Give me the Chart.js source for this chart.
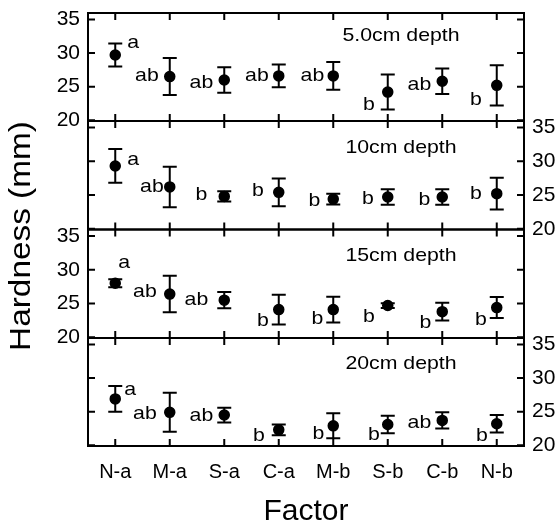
<!DOCTYPE html>
<html>
<head>
    <title>Hardness by depth</title>
    <script src="https://cdn.jsdelivr.net/npm/chart.js"></script>
    <style>
        body {
            margin: 0;
            padding: 0;
            background-color: #fff;
        }

        .wrap {
            position: relative;
            width: 560px;
            height: 528px;
        }

        .wrap canvas {
            position: absolute;
            left: 0;
            top: 0;
        }
    </style>
</head>
<body>
    <div class="wrap">
        <canvas id="p0" width="560" height="528"></canvas>
        <canvas id="p1" width="560" height="528"></canvas>
        <canvas id="p2" width="560" height="528"></canvas>
        <canvas id="p3" width="560" height="528"></canvas>
    </div>
    <script>
        var categories = ['N-a', 'M-a', 'S-a', 'C-a', 'M-b', 'S-b', 'C-b', 'N-b'];
        var depths = ['5.0cm depth', '10cm depth', '15cm depth', '20cm depth'];
        var yTicks = [20, 25, 30, 35];

        var means5 = [29.7, 26.5, 26.0, 26.6, 26.6, 24.2, 25.8, 25.2];
        var err5 = [1.7, 2.75, 1.9, 1.7, 2.05, 2.6, 1.9, 3.0];
        var letters5 = ['a', 'ab', 'ab', 'ab', 'ab', 'b', 'ab', 'b'];

        var means10 = [29.3, 26.2, 24.8, 25.4, 24.4, 24.7, 24.7, 25.2];
        var err10 = [2.5, 3.0, 0.75, 2.05, 0.8, 1.15, 1.15, 2.35];
        var letters10 = ['a', 'ab', 'b', 'b', 'b', 'b', 'b', 'b'];

        var means15 = [28.0, 26.4, 25.5, 24.1, 24.1, 24.7, 23.8, 24.4];
        var err15 = [0.6, 2.7, 1.2, 2.2, 1.9, 0.35, 1.3, 1.55];
        var letters15 = ['a', 'ab', 'ab', 'b', 'b', 'b', 'b', 'b'];

        var means20 = [26.9, 24.9, 24.5, 22.3, 22.9, 23.1, 23.7, 23.2];
        var err20 = [1.9, 2.9, 1.1, 0.8, 1.85, 1.3, 1.2, 1.3];
        var letters20 = ['a', 'ab', 'ab', 'b', 'b', 'b', 'ab', 'b'];

        var means = [means5, means10, means15, means20];
        var errs = [err5, err10, err15, err20];
        var letters = [letters5, letters10, letters15, letters20];

        // layout only: panel strips, label side, letter offsets (px from the point)
        var panelTop = [13, 121, 229.5, 338];
        var panelBottom = [121, 229.5, 338, 446];
        var labelSide = ['left', 'right', 'left', 'right'];
        var titleDy = [23, 27, 26, 26];
        var letterOffsets = [
            [[12, -12], [-11, -1], [-11, 3], [-10, 0], [-9, 0], [-13, 13], [-11, 4], [-15, 15]],
            [[12, -6], [-6, 0], [-17, -1], [-15, -1], [-13, 2], [-14, 2], [-12, 3], [-15, 0]],
            [[3, -20], [-13, -2], [-16, 0], [-10, 11], [-10, 9], [-13, 11], [-11, 11], [-10, 12]],
            [[9, -9], [-13, 2], [-11, 1], [-14, 6], [-9, 8], [-8, 10], [-11, 2], [-9, 12]]
        ];

        var FONT = 'Arial, "Liberation Sans", sans-serif';
        var STRETCH = 1.15; // the source lettering is a bit wider than Arial
        Chart.defaults.font.family = FONT;
        Chart.defaults.color = '#000';

        function wideText(ctx, text, x, y, align) {
            ctx.save();
            ctx.translate(x, y);
            ctx.scale(STRETCH, 1);
            ctx.textAlign = align;
            ctx.fillText(text, 0, 0);
            ctx.restore();
        }

        function makePanelPlugin(k) {
            return {
                id: 'panel' + k,
                beforeDatasetsDraw: function (chart) {
                    var ctx = chart.ctx;
                    var a = chart.chartArea;
                    var xs = chart.scales.x;
                    var ys = chart.scales.y;
                    ctx.save();
                    ctx.strokeStyle = '#000';
                    ctx.lineWidth = 2;

                    // error bars
                    for (var i = 0; i < categories.length; i++) {
                        var px = xs.getPixelForValue(i);
                        var top = ys.getPixelForValue(means[k][i] + errs[k][i]);
                        var bot = ys.getPixelForValue(means[k][i] - errs[k][i]);
                        ctx.beginPath();
                        ctx.moveTo(px, top);
                        ctx.lineTo(px, bot);
                        ctx.moveTo(px - 7, top);
                        ctx.lineTo(px + 7, top);
                        ctx.moveTo(px - 7, bot);
                        ctx.lineTo(px + 7, bot);
                        ctx.stroke();
                    }

                    // frame with inward ticks
                    ctx.strokeRect(a.left, a.top, a.right - a.left, a.bottom - a.top);
                    ctx.beginPath();
                    for (var j = 0; j < yTicks.length; j++) {
                        var ty = ys.getPixelForValue(yTicks[j]);
                        ctx.moveTo(a.left, ty);
                        ctx.lineTo(a.left + 7, ty);
                        ctx.moveTo(a.right, ty);
                        ctx.lineTo(a.right - 7, ty);
                    }
                    for (var c = 0; c < categories.length; c++) {
                        var tx = xs.getPixelForValue(c);
                        ctx.moveTo(tx, a.top);
                        ctx.lineTo(tx, a.top + 7);
                        ctx.moveTo(tx, a.bottom);
                        ctx.lineTo(tx, a.bottom - 7);
                    }
                    ctx.stroke();
                    ctx.restore();
                },
                afterDatasetsDraw: function (chart) {
                    var ctx = chart.ctx;
                    var a = chart.chartArea;
                    var meta = chart.getDatasetMeta(0);
                    ctx.save();
                    ctx.fillStyle = '#000';
                    ctx.textBaseline = 'middle';
                    ctx.font = '18.5px ' + FONT;
                    for (var i = 0; i < meta.data.length; i++) {
                        var el = meta.data[i];
                        var off = letterOffsets[k][i];
                        wideText(ctx, letters[k][i], el.x + off[0], el.y + off[1], off[0] < 0 ? 'right' : 'left');
                    }
                    wideText(ctx, depths[k], 401, a.top + titleDy[k], 'center');

                    if (k === 0) {
                        ctx.translate(22, 236);
                        ctx.rotate(-Math.PI / 2);
                        ctx.font = '29px ' + FONT;
                        wideText(ctx, 'Hardness (mm)', 0, 0, 'center');
                    }
                    ctx.restore();
                }
            };
        }

        function makeChart(k) {
            var last = k === 3;
            var side = labelSide[k];
            var ctx = document.getElementById('p' + k).getContext('2d');
            return new Chart(ctx, {
                type: 'line',
                data: {
                    labels: categories,
                    datasets: [{
                        data: means[k],
                        showLine: false,
                        pointRadius: 5,
                        pointBorderWidth: 1.5,
                        pointBackgroundColor: '#000',
                        pointBorderColor: '#000'
                    }]
                },
                options: {
                    responsive: false,
                    animation: false,
                    events: [],
                    layout: {
                        padding: {
                            top: panelTop[k],
                            bottom: last ? 0 : 528 - panelBottom[k],
                            left: side === 'left' ? 0 : 88,
                            right: side === 'left' ? 36 : 0
                        }
                    },
                    plugins: {
                        legend: { display: false },
                        tooltip: { enabled: false }
                    },
                    scales: {
                        x: {
                            display: last,
                            offset: true,
                            grid: { display: false, drawTicks: false },
                            border: { display: false },
                            ticks: { padding: 14, font: { size: 20 } },
                            title: {
                                display: last,
                                text: 'Factor',
                                font: { size: 30, lineHeight: 1 },
                                padding: { top: 0, bottom: 1 }
                            },
                            afterFit: function (s) {
                                if (last) s.height = 528 - panelBottom[3];
                            }
                        },
                        y: {
                            position: side,
                            min: 19.9,
                            max: 35.95,
                            grid: { display: false, drawTicks: true, tickLength: 8 },
                            border: { display: false },
                            ticks: { padding: 0, font: { size: 21 } },
                            afterBuildTicks: function (s) {
                                s.ticks = yTicks.map(function (v) { return { value: v }; });
                            },
                            afterFit: function (s) {
                                s.width = side === 'left' ? 88 : 36;
                            }
                        }
                    }
                },
                plugins: [makePanelPlugin(k)]
            });
        }

        for (var k = 0; k < 4; k++) {
            makeChart(k);
        }
    </script>
</body>
</html>
